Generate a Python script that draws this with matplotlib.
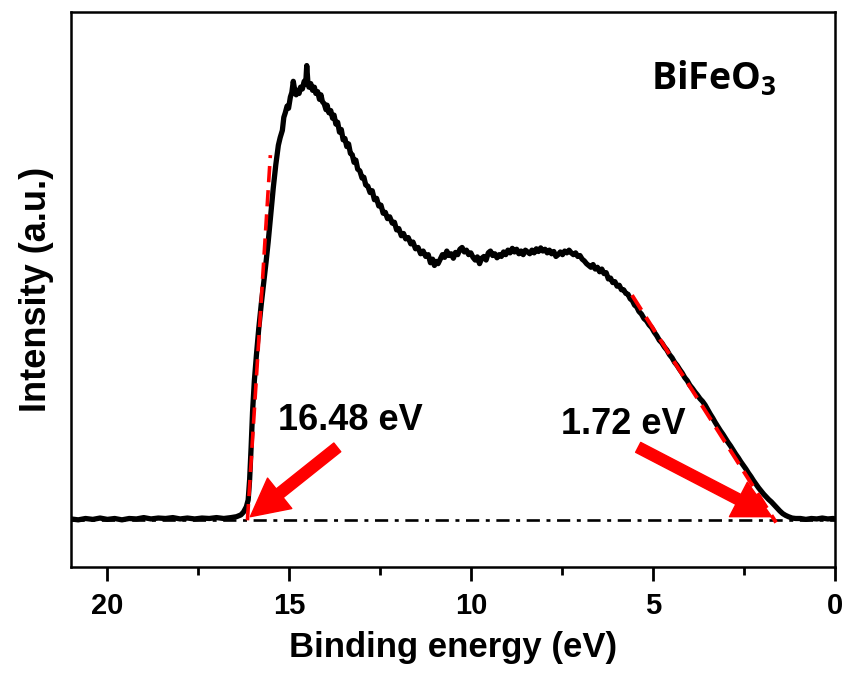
"""
Valence band / secondary electron cutoff spectrum of BiFeO3.
Redraw of the UPS plot with the two linear extrapolations.
"""

import matplotlib
matplotlib.use("Agg")
import matplotlib.pyplot as plt

# spectrum: binding energy (eV) and intensity (a.u.)
energy = [21.00, 20.80, 20.60, 20.40, 20.20, 20.00, 19.80, 19.60, 19.40, 19.20,
          19.00, 18.80, 18.60, 18.40, 18.20, 18.00, 17.80, 17.60, 17.40, 17.20,
          17.00, 16.80, 16.60, 16.45, 16.33, 16.26, 16.18, 16.13, 16.09, 16.05,
          16.01, 15.96, 15.90, 15.84, 15.77, 15.71, 15.64, 15.58, 15.51, 15.44,
          15.37, 15.30, 15.25, 15.19, 15.15, 15.11, 15.06, 15.02, 14.97, 14.93,
          14.89, 14.85, 14.81, 14.78, 14.73, 14.69, 14.64, 14.59, 14.55, 14.52,
          14.49, 14.46, 14.41, 14.36, 14.31, 14.27, 14.22, 14.17, 14.13, 14.09,
          14.04, 13.99, 13.96, 13.91, 13.86, 13.81, 13.77, 13.72, 13.67, 13.62,
          13.57, 13.52, 13.47, 13.42, 13.37, 13.32, 13.27, 13.22, 13.17, 13.12,
          13.06, 13.00, 12.95, 12.90, 12.84, 12.78, 12.72, 12.66, 12.60, 12.54,
          12.48, 12.42, 12.36, 12.30, 12.24, 12.17, 12.11, 12.05, 11.99, 11.92,
          11.86, 11.80, 11.73, 11.66, 11.60, 11.53, 11.46, 11.39, 11.32, 11.25,
          11.18, 11.12, 11.06, 11.01, 10.96, 10.91, 10.85, 10.79, 10.73, 10.67,
          10.61, 10.55, 10.49, 10.43, 10.37, 10.31, 10.25, 10.19, 10.13, 10.07,
          10.01, 9.95, 9.89, 9.83, 9.77, 9.71, 9.65, 9.59, 9.53, 9.47,
          9.41, 9.35, 9.29, 9.23, 9.17, 9.11, 9.05, 8.99, 8.93, 8.87,
          8.81, 8.75, 8.69, 8.63, 8.57, 8.51, 8.45, 8.39, 8.33, 8.27,
          8.21, 8.15, 8.09, 8.03, 7.97, 7.91, 7.85, 7.79, 7.73, 7.67,
          7.61, 7.55, 7.49, 7.43, 7.37, 7.31, 7.25, 7.19, 7.13, 7.07,
          7.01, 6.95, 6.89, 6.83, 6.77, 6.71, 6.65, 6.59, 6.53, 6.47,
          6.41, 6.35, 6.29, 6.23, 6.17, 6.11, 6.05, 5.99, 5.93, 5.87,
          5.81, 5.75, 5.69, 5.63, 5.57, 5.51, 5.45, 5.39, 5.32, 5.25,
          5.18, 5.11, 5.04, 4.97, 4.90, 4.83, 4.76, 4.69, 4.62, 4.55,
          4.48, 4.41, 4.34, 4.27, 4.20, 4.13, 4.06, 3.99, 3.92, 3.85,
          3.78, 3.71, 3.64, 3.57, 3.50, 3.43, 3.36, 3.29, 3.22, 3.15,
          3.08, 3.01, 2.94, 2.87, 2.80, 2.73, 2.66, 2.59, 2.52, 2.45,
          2.38, 2.31, 2.24, 2.17, 2.10, 2.03, 1.96, 1.89, 1.82, 1.75,
          1.68, 1.60, 1.52, 1.44, 1.36, 1.28, 1.18, 1.08, 0.95, 0.80,
          0.65, 0.50, 0.35, 0.20, 0.05, 0.00]

intensity = [0.003, 0.001, 0.004, 0.002, 0.005, 0.002, 0.004, 0.001, 0.004, 0.003,
             0.006, 0.003, 0.005, 0.004, 0.006, 0.003, 0.005, 0.003, 0.005, 0.004,
             0.006, 0.004, 0.006, 0.008, 0.012, 0.018, 0.030, 0.045, 0.090, 0.160,
             0.240, 0.310, 0.370, 0.425, 0.480, 0.522, 0.572, 0.618, 0.678, 0.738,
             0.790, 0.833, 0.850, 0.866, 0.895, 0.905, 0.920, 0.915, 0.940, 0.950,
             0.975, 0.955, 0.945, 0.955, 0.948, 0.962, 0.958, 0.975, 0.968, 1.010,
             0.975, 0.962, 0.970, 0.955, 0.962, 0.948, 0.952, 0.935, 0.945, 0.930,
             0.925, 0.912, 0.922, 0.905, 0.910, 0.893, 0.900, 0.880, 0.884, 0.862,
             0.868, 0.845, 0.848, 0.830, 0.836, 0.815, 0.812, 0.795, 0.800, 0.780,
             0.776, 0.760, 0.762, 0.745, 0.742, 0.728, 0.732, 0.712, 0.715, 0.698,
             0.700, 0.682, 0.684, 0.670, 0.674, 0.660, 0.662, 0.645, 0.648, 0.632,
             0.637, 0.625, 0.628, 0.614, 0.618, 0.603, 0.606, 0.592, 0.598, 0.586,
             0.590, 0.572, 0.580, 0.566, 0.575, 0.570, 0.580, 0.590, 0.584, 0.598,
             0.588, 0.592, 0.582, 0.595, 0.590, 0.602, 0.606, 0.596, 0.600, 0.590,
             0.594, 0.584, 0.578, 0.585, 0.570, 0.582, 0.586, 0.578, 0.594, 0.598,
             0.588, 0.592, 0.583, 0.590, 0.586, 0.596, 0.590, 0.600, 0.594, 0.604,
             0.596, 0.602, 0.592, 0.598, 0.590, 0.600, 0.596, 0.592, 0.600, 0.594,
             0.603, 0.597, 0.605, 0.598, 0.602, 0.594, 0.600, 0.592, 0.597, 0.586,
             0.590, 0.596, 0.590, 0.598, 0.594, 0.600, 0.594, 0.590, 0.594, 0.586,
             0.588, 0.580, 0.576, 0.570, 0.566, 0.562, 0.568, 0.558, 0.562, 0.552,
             0.558, 0.548, 0.550, 0.536, 0.538, 0.528, 0.530, 0.520, 0.522, 0.512,
             0.512, 0.504, 0.502, 0.492, 0.488, 0.478, 0.474, 0.464, 0.458, 0.448,
             0.443, 0.434, 0.428, 0.418, 0.410, 0.400, 0.394, 0.385, 0.378, 0.368,
             0.361, 0.351, 0.344, 0.335, 0.327, 0.317, 0.310, 0.300, 0.293, 0.285,
             0.278, 0.270, 0.264, 0.256, 0.246, 0.236, 0.227, 0.217, 0.208, 0.199,
             0.191, 0.182, 0.173, 0.165, 0.156, 0.147, 0.139, 0.130, 0.122, 0.114,
             0.105, 0.097, 0.088, 0.080, 0.072, 0.065, 0.058, 0.052, 0.046, 0.041,
             0.035, 0.028, 0.021, 0.015, 0.011, 0.008, 0.005, 0.004, 0.004, 0.002,
             0.004, 0.003, 0.005, 0.003, 0.004, 0.003]

# linear extrapolations of the two edges (end points)
cutoff_fit_x = [16.15, 15.52]
cutoff_fit_y = [0.0, 0.811]
vbm_fit_x = [5.58, 1.62]
vbm_fit_y = [0.500, -0.005]

# arrow labels: text, text position, arrow tail, arrow tip
labels = ["16.48 eV", "1.72 eV"]
label_pos = [(13.32, 0.222), (5.82, 0.213)]
arrow_tail = [(13.68, 0.162), (5.41, 0.162)]
arrow_tip = [(16.07, 0.008), (1.74, 0.008)]

plt.rcParams["font.family"] = ["Liberation Sans", "DejaVu Sans"]
plt.rcParams["mathtext.fontset"] = "custom"
plt.rcParams["mathtext.bf"] = "Open Sans:bold"
plt.rcParams["mathtext.rm"] = "Open Sans:bold"

fig = plt.figure(figsize=(8.42, 6.80), dpi=100)
ax = fig.add_axes([0.0843, 0.166, 0.9074, 0.8164])

# baseline
ax.axhline(0, color="black", lw=1.9, linestyle=(0, (5, 2.5, 1.5, 2.5)), zorder=1)

# the spectrum
ax.plot(energy, intensity, color="black", lw=3.8, zorder=3,
        solid_joinstyle="round")

# red dashed fits
ax.plot(cutoff_fit_x, cutoff_fit_y, color="red", lw=2.6,
        linestyle=(0, (4.5, 2.2)), zorder=4)
ax.plot(vbm_fit_x, vbm_fit_y, color="red", lw=2.8,
        linestyle=(0, (4.5, 2.2)), zorder=4)

# arrows and their labels
for text, pos, tail, tip in zip(labels, label_pos, arrow_tail, arrow_tip):
    ax.annotate("", xy=tip, xytext=tail,
                arrowprops=dict(arrowstyle="simple,head_length=1.35,head_width=1.4,tail_width=0.4",
                                color="red", mutation_scale=20, shrinkA=0, shrinkB=0),
                zorder=5)
    ax.text(pos[0], pos[1], text, fontsize=26, fontweight="bold",
            ha="center", va="center")

ax.text(3.32, 0.982, r"$\mathbf{BiFeO_3}$", fontsize=27, ha="center", va="center")

# axes setup
ax.set_xlim(21, 0)
ax.set_ylim(-0.104, 1.129)
ax.set_xticks([20, 15, 10, 5, 0])
ax.set_xticks([17.5, 12.5, 7.5, 2.5], minor=True)
ax.set_yticks([])
ax.tick_params(axis="x", which="major", direction="out", length=10, width=2,
               labelsize=21, pad=8)
ax.tick_params(axis="x", which="minor", direction="out", length=6, width=2)
ax.tick_params(axis="x", top=False)
for label in ax.get_xticklabels():
    label.set_fontweight("bold")
for side in ax.spines.values():
    side.set_linewidth(1.8)

ax.set_xlabel("Binding energy (eV)", fontsize=25, fontweight="bold", labelpad=8)
ax.set_ylabel("Intensity (a.u.)", fontsize=26, fontweight="bold", labelpad=12)

plt.savefig("out.png", dpi=100)
plt.close(fig)
